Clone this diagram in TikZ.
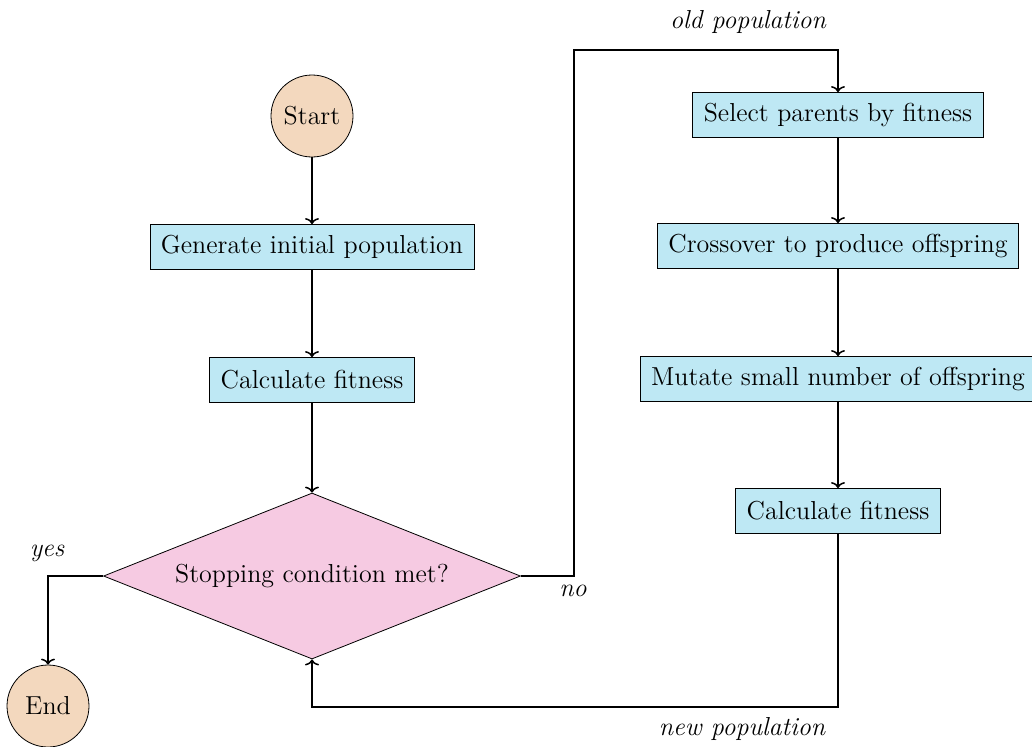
\documentclass[tikz,border=0pt]{standalone}
\usetikzlibrary{shapes.geometric,calc,arrows.meta}
\definecolor{termfill}{RGB}{243,216,190}
\definecolor{procfill}{RGB}{190,232,244}
\definecolor{decfill}{RGB}{246,202,226}
\begin{document}
\begin{tikzpicture}[x=0.5pt,y=-0.5pt,
  every node/.style={font=\fontsize{13}{15}\selectfont},
  term/.style={circle,draw,fill=termfill,minimum size=41pt,inner sep=1pt},
  proc/.style={rectangle,draw,fill=procfill,minimum height=22.5pt,inner xsep=5.5pt,inner ysep=2pt},
  decision/.style={diamond,draw,fill=decfill,aspect=2.5,minimum width=208.5pt,minimum height=83pt,inner sep=0pt},
  lbl/.style={font=\fontsize{13}{15}\selectfont\itshape},
  flow/.style={-{To[length=3pt,width=7pt]},line width=0.75pt}]
\clip (0,0) rectangle (1032,746);
% left column
\node[term] (start) at (312,116) {Start};
\node[proc] (gen) at (312,247) {Generate initial population};
\node[proc] (fit1) at (312,380) {Calculate fitness};
\node[decision] (stop) at (312,576) {Stopping condition met?};
\node[term] (end) at (48,706) {End};
% right column
\node[proc] (sel) at (838,115) {Select parents by fitness};
\node[proc] (cross) at (838,246) {Crossover to produce offspring};
\node[proc] (mut) at (838,379) {Mutate small number of offspring};
\node[proc] (fit2) at (838,511) {Calculate fitness};
% bend points of the loop
\coordinate (nocorner) at (574,50);
\coordinate (retcorner) at (838,707);
% connectors
\draw[flow] (start) -- (gen);
\draw[flow] (gen) -- (fit1);
\draw[flow] (fit1) -- (stop);
\draw[flow] (stop.west) -| (end.north);
\draw[flow] (stop.east) -| (nocorner) -| (sel.north);
\draw[flow] (sel) -- (cross);
\draw[flow] (cross) -- (mut);
\draw[flow] (mut) -- (fit2);
\draw[flow] (fit2.south) -- (retcorner) -| (stop.south);
% labels
\node[lbl] (lyes) at (47,553) {yes};
\node[lbl] (lno) at (573,591) {no};
\node[lbl] (lold) at (748,22) {old population};
\node[lbl] (lnew) at (742,729) {new population};
\end{tikzpicture}
\end{document}
